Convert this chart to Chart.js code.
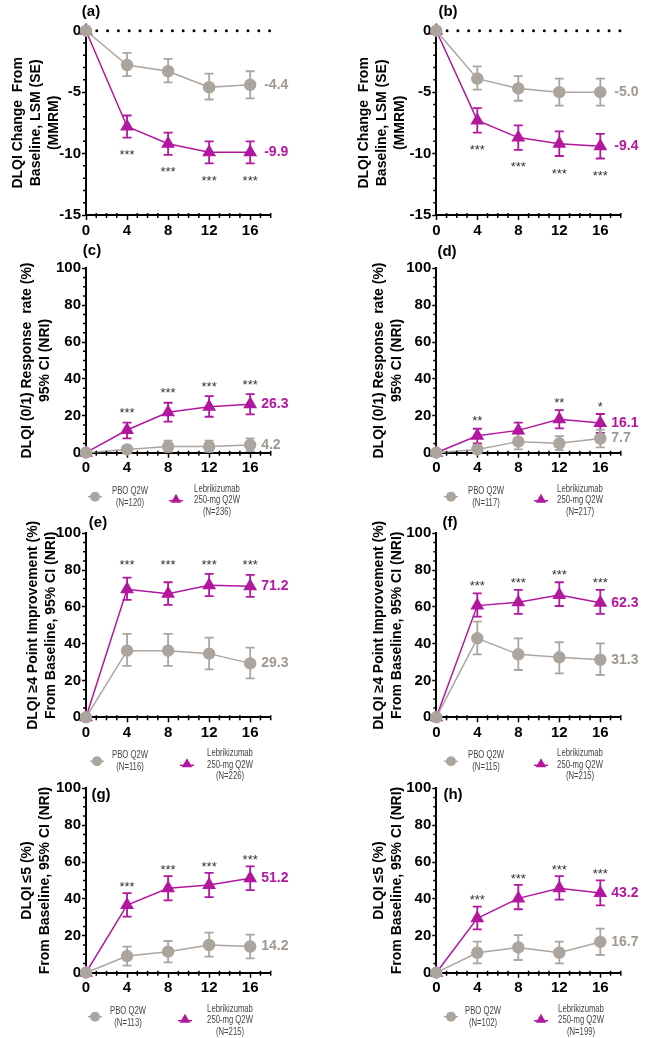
<!DOCTYPE html>
<html>
<head>
<meta charset="utf-8">
<script src="https://cdn.jsdelivr.net/npm/chart.js"></script>
<style>
  html, body { margin: 0; padding: 0; background: #fff; }
  #page { position: relative; width: 646px; height: 1038px; overflow: hidden; background: #fff; }
  #page canvas { position: absolute; }
</style>
</head>
<body>
<div id="page"></div>
<script>
// weeks and axis ticks
const weeks = [0, 4, 8, 12, 16];
const xTicks = [0, 4, 8, 12, 16];
const yTicksChange = [-15, -10, -5, 0];
const yTicksPct = [0, 20, 40, 60, 80, 100];

// (a) DLQI change from baseline, LSM (SE)
const aPbo = [0, -2.8, -3.3, -4.6, -4.4];
const aPboLo = [null, -3.7, -4.2, -5.6, -5.5];
const aPboHi = [null, -1.8, -2.3, -3.5, -3.3];
const aLeb = [0, -7.8, -9.2, -9.9, -9.9];
const aLebLo = [null, -8.7, -10.1, -10.8, -10.8];
const aLebHi = [null, -6.9, -8.3, -9.0, -9.0];
const aStars = ['', '***', '***', '***', '***'];

// (b)
const bPbo = [0, -3.9, -4.7, -5.0, -5.0];
const bPboLo = [null, -4.8, -5.7, -6.1, -6.1];
const bPboHi = [null, -2.9, -3.7, -3.9, -3.9];
const bLeb = [0, -7.3, -8.7, -9.2, -9.4];
const bLebLo = [null, -8.3, -9.7, -10.2, -10.4];
const bLebHi = [null, -6.3, -7.7, -8.2, -8.4];
const bStars = ['', '***', '***', '***', '***'];

// (c) DLQI (0/1) response rate
const cPbo = [0, 1.8, 3.3, 3.3, 4.2];
const cPboLo = [null, 0.2, 0.5, 0.5, 0.8];
const cPboHi = [null, 3.6, 6.5, 6.5, 7.8];
const cLeb = [0, 12.3, 21.9, 24.9, 26.3];
const cLebLo = [null, 7.8, 16.8, 19.5, 20.8];
const cLebHi = [null, 16.3, 27.1, 30.7, 31.8];
const cStars = ['', '***', '***', '***', '***'];

// (d)
const dPbo = [0, 1.8, 6.0, 5.1, 7.7];
const dPboLo = [null, 0.2, 1.8, 1.4, 2.9];
const dPboHi = [null, 3.6, 10.4, 9.0, 12.5];
const dLeb = [0, 9.2, 12.1, 18.1, 16.1];
const dLebLo = [null, 5.0, 7.8, 13.2, 10.8];
const dLebHi = [null, 13.0, 16.3, 23.1, 21.0];
const dStars = ['', '**', '', '**', '*'];

// (e) DLQI >=4 point improvement
const ePbo = [0, 36.2, 36.2, 34.6, 29.3];
const ePboLo = [null, 27.9, 27.9, 26.1, 21.2];
const ePboHi = [null, 45.3, 45.3, 43.3, 37.9];
const eLeb = [0, 69.6, 67.2, 71.7, 71.2];
const eLebLo = [null, 63.8, 61.1, 65.9, 65.4];
const eLebHi = [null, 75.9, 73.4, 77.9, 77.4];
const eStars = ['', '***', '***', '***', '***'];

// (f)
const fPbo = [0, 42.9, 34.2, 32.6, 31.3];
const fPboLo = [null, 34.2, 25.7, 23.9, 23.0];
const fPboHi = [null, 52.0, 42.9, 40.8, 40.2];
const fLeb = [0, 60.7, 62.5, 66.5, 62.3];
const fLebLo = [null, 54.7, 56.2, 60.5, 56.2];
const fLebHi = [null, 67.4, 69.2, 73.4, 69.2];
const fStars = ['', '***', '***', '***', '***'];

// (g) DLQI <=5
const gPbo = [0, 9.0, 11.4, 15.0, 14.2];
const gPboLo = [null, 3.8, 5.6, 8.7, 7.8];
const gPboHi = [null, 14.1, 17.2, 21.7, 20.6];
const gLeb = [0, 36.7, 45.8, 47.6, 51.2];
const gLebLo = [null, 30.4, 39.2, 41.0, 44.8];
const gLebHi = [null, 43.2, 52.4, 54.1, 57.7];
const gStars = ['', '***', '***', '***', '***'];

// (h)
const hPbo = [0, 10.8, 13.7, 10.8, 16.7];
const hPboLo = [null, 5.1, 6.9, 5.1, 9.6];
const hPboHi = [null, 16.8, 20.4, 16.8, 23.9];
const hLeb = [0, 29.5, 40.3, 45.8, 43.2];
const hLebLo = [null, 23.5, 34.4, 39.6, 36.5];
const hLebHi = [null, 35.8, 47.6, 52.4, 50.1];
const hStars = ['', '***', '***', '***', '***'];

// patient counts shown in the legends (c..h)
const pboN = [120, 117, 116, 115, 113, 102];
const lebN = [236, 217, 226, 215, 215, 199];

const GRAY = '#aca59e';
const GRAY_TXT = '#a0988f';
const MAG = '#b3179e';
const FONT = "'Liberation Sans', Arial, Helvetica, sans-serif";

const titleChange = ['DLQI Change  From', 'Baseline, LSM (SE)', '(MMRM)'];
const titleResp = ['DLQI (0/1) Response  rate (%)', '95% CI (NRI)'];
const titleImpr = ['DLQI \u22654 Point Improvement (%)', 'From Baseline, 95% CI (NRI)'];
const titleLow = ['DLQI \u22645 (%)', 'From Baseline, 95% CI (NRI)'];

const chg = { yMin: -15, yMax: 0, yTicks: yTicksChange, yMinor: 1, title: titleChange, starsBelow: true, zeroLine: true, endGap: 14 };
const pct = { yMin: 0, yMax: 100, yTicks: yTicksPct, yMinor: 5, starsBelow: false, zeroLine: false, endGap: 11 };

const panels = [
  Object.assign({}, chg, { tag: '(a)', col: 0, axisX: 86, right: 270.7, top: 30.7, bottom: 215, titleX: 18, tagX: 91, tagY: 12, starGap: 15,
    pbo: aPbo, pboLo: aPboLo, pboHi: aPboHi, leb: aLeb, lebLo: aLebLo, lebHi: aLebHi, stars: aStars }),
  Object.assign({}, chg, { tag: '(b)', col: 1, axisX: 436.3, right: 620.8, top: 30.7, bottom: 215, titleX: 364, tagX: 448, tagY: 12, starGap: 15,
    pbo: bPbo, pboLo: bPboLo, pboHi: bPboHi, leb: bLeb, lebLo: bLebLo, lebHi: bLebHi, stars: bStars }),
  Object.assign({}, pct, { tag: '(c)', col: 0, axisX: 86, right: 270.7, top: 268.3, bottom: 452.7, titleX: 27.5, tagX: 92, tagY: 251, starGap: 12, title: titleResp,
    pbo: cPbo, pboLo: cPboLo, pboHi: cPboHi, leb: cLeb, lebLo: cLebLo, lebHi: cLebHi, stars: cStars,
    legend: { n: 0, gx: 95, gtx: 130, mx: 176, mtx: 217 } }),
  Object.assign({}, pct, { tag: '(d)', col: 1, axisX: 436.3, right: 620.8, top: 268.3, bottom: 452.7, titleX: 379, tagX: 447, tagY: 252, starGap: 10, title: titleResp,
    pbo: dPbo, pboLo: dPboLo, pboHi: dPboHi, leb: dLeb, lebLo: dLebLo, lebHi: dLebHi, stars: dStars,
    legend: { n: 1, gx: 451, gtx: 486, mx: 541, mtx: 580 } }),
  Object.assign({}, pct, { tag: '(e)', col: 0, axisX: 86, right: 270.7, top: 533.3, bottom: 717.3, titleX: 33, tagX: 98, tagY: 523, starGap: 12, alignStars: true, title: titleImpr,
    pbo: ePbo, pboLo: ePboLo, pboHi: ePboHi, leb: eLeb, lebLo: eLebLo, lebHi: eLebHi, stars: eStars,
    legend: { n: 2, gx: 97, gtx: 130, mx: 187, mtx: 230 } }),
  Object.assign({}, pct, { tag: '(f)', col: 1, axisX: 436.3, right: 620.8, top: 533.3, bottom: 717.3, titleX: 379, tagX: 450, tagY: 523, starGap: 10, title: titleImpr,
    pbo: fPbo, pboLo: fPboLo, pboHi: fPboHi, leb: fLeb, lebLo: fLebLo, lebHi: fLebHi, stars: fStars,
    legend: { n: 3, gx: 451, gtx: 486, mx: 541, mtx: 580 } }),
  Object.assign({}, pct, { tag: '(g)', col: 0, axisX: 86, right: 270.7, top: 788.3, bottom: 972.7, titleX: 27.5, tagX: 101, tagY: 795, starGap: 9, title: titleLow,
    pbo: gPbo, pboLo: gPboLo, pboHi: gPboHi, leb: gLeb, lebLo: gLebLo, lebHi: gLebHi, stars: gStars,
    legend: { n: 4, gx: 95, gtx: 128, mx: 185, mtx: 230 } }),
  Object.assign({}, pct, { tag: '(h)', col: 1, axisX: 436.3, right: 620.8, top: 788.3, bottom: 972.7, titleX: 379, tagX: 453, tagY: 795, starGap: 9, title: titleLow,
    pbo: hPbo, pboLo: hPboLo, pboHi: hPboHi, leb: hLeb, lebLo: hLebLo, lebHi: hLebHi, stars: hStars,
    legend: { n: 5, gx: 451, gtx: 483, mx: 541, mtx: 581 } })
];

Chart.defaults.font.family = FONT;
Chart.defaults.color = '#000';

const PAGE_H = 1038, HALF = 323, XAXIS_H = 30;
const TLH = 14 * 1.28;

function pts(vals) {
  return weeks.map((w, i) => ({ x: w, y: vals[i] }));
}

function triangle(ctx, x, y, r) {
  ctx.beginPath();
  for (let k = 0; k < 3; k++) {
    const a = k * 2 * Math.PI / 3;
    const px = x + Math.sin(a) * r, py = y - Math.cos(a) * r;
    if (k === 0) ctx.moveTo(px, py); else ctx.lineTo(px, py);
  }
  ctx.closePath();
  ctx.fill();
}

// narrow legend text: regular font squeezed horizontally
function narrowText(ctx, txt, x, y) {
  ctx.save();
  ctx.translate(x, y);
  ctx.scale(0.7, 1);
  ctx.fillText(txt, 0, 0);
  ctx.restore();
}

function errBars(ctx, xs, ys, lo, hi, color) {
  ctx.save();
  ctx.strokeStyle = color;
  ctx.lineWidth = 1.8;
  weeks.forEach((w, i) => {
    if (lo[i] == null) return;
    const x = xs.getPixelForValue(w);
    const y1 = ys.getPixelForValue(lo[i]);
    const y2 = ys.getPixelForValue(hi[i]);
    ctx.beginPath();
    ctx.moveTo(x, y1); ctx.lineTo(x, y2);
    ctx.moveTo(x - 4.5, y1); ctx.lineTo(x + 4.5, y1);
    ctx.moveTo(x - 4.5, y2); ctx.lineTo(x + 4.5, y2);
    ctx.stroke();
  });
  ctx.restore();
}

function decor(p, offX, offY) {
  return {
    id: 'decor',
    beforeDatasetsDraw(chart) {
      const ctx = chart.ctx, xs = chart.scales.x, ys = chart.scales.y;
      if (p.zeroLine) {
        const y0 = ys.getPixelForValue(0);
        ctx.save();
        ctx.strokeStyle = '#000';
        ctx.lineWidth = 3;
        ctx.lineCap = 'round';
        ctx.setLineDash([0, 10.8]);
        ctx.beginPath();
        ctx.moveTo(xs.left, y0);
        ctx.lineTo(xs.right, y0);
        ctx.stroke();
        ctx.restore();
      }
      errBars(ctx, xs, ys, p.lebLo, p.lebHi, MAG);
      errBars(ctx, xs, ys, p.pboLo, p.pboHi, GRAY);
    },
    afterDraw(chart) {
      const ctx = chart.ctx, xs = chart.scales.x, ys = chart.scales.y;
      ctx.save();
      // minor ticks
      ctx.strokeStyle = '#000';
      ctx.lineWidth = 1.5;
      const ax = chart.chartArea.bottom;
      ctx.beginPath();
      for (let v = 0; v <= 18; v++) {
        if (xTicks.includes(v)) continue;
        const px = xs.getPixelForValue(v);
        ctx.moveTo(px, ax - 2); ctx.lineTo(px, ax + 3);
      }
      const ay = chart.chartArea.left;
      for (let v = p.yMin; v <= p.yMax; v += p.yMinor) {
        if (p.yTicks.includes(v)) continue;
        const py = ys.getPixelForValue(v);
        ctx.moveTo(ay - 3, py); ctx.lineTo(ay, py);
      }
      ctx.stroke();

      // significance stars
      ctx.fillStyle = '#333';
      ctx.font = '13px ' + FONT;
      ctx.textAlign = 'center';
      ctx.textBaseline = 'middle';
      const sy = weeks.map((w, i) => p.starsBelow
        ? ys.getPixelForValue(p.lebLo[i]) + p.starGap + 3
        : ys.getPixelForValue(p.lebHi[i]) - p.starGap + 3);
      const level = Math.min(...sy.slice(1));
      weeks.forEach((w, i) => {
        if (!p.stars[i]) return;
        ctx.fillText(p.stars[i], xs.getPixelForValue(w), p.alignStars ? level : sy[i]);
      });

      // end values
      const last = weeks.length - 1;
      const ex = xs.getPixelForValue(weeks[last]) + p.endGap;
      ctx.font = 'bold 14px ' + FONT;
      ctx.textAlign = 'left';
      ctx.fillStyle = GRAY_TXT;
      ctx.fillText(p.pbo[last].toFixed(1), ex, ys.getPixelForValue(p.pbo[last]));
      ctx.fillStyle = MAG;
      ctx.fillText(p.leb[last].toFixed(1), ex, ys.getPixelForValue(p.leb[last]));

      // panel tag
      ctx.fillStyle = '#000';
      ctx.font = 'bold 15px ' + FONT;
      ctx.textAlign = 'center';
      ctx.fillText(p.tag, p.tagX - offX, p.tagY - offY);

      // legend
      if (p.legend) {
        const L = p.legend, b = p.bottom - offY;
        ctx.font = '11px ' + FONT;
        ctx.fillStyle = '#444';
        narrowText(ctx, 'PBO Q2W', L.gtx - offX, b + 38);
        narrowText(ctx, '(N=' + pboN[L.n] + ')', L.gtx - offX, b + 50);
        narrowText(ctx, 'Lebrikizumab', L.mtx - offX, b + 36);
        narrowText(ctx, '250-mg Q2W', L.mtx - offX, b + 47.5);
        narrowText(ctx, '(N=' + lebN[L.n] + ')', L.mtx - offX, b + 59);
        // markers
        ctx.lineWidth = 1.5;
        ctx.strokeStyle = GRAY; ctx.fillStyle = GRAY;
        ctx.beginPath();
        ctx.moveTo(L.gx - offX - 7, b + 44); ctx.lineTo(L.gx - offX + 7, b + 44);
        ctx.stroke();
        ctx.beginPath();
        ctx.arc(L.gx - offX, b + 44, 5, 0, Math.PI * 2);
        ctx.fill();
        ctx.strokeStyle = MAG; ctx.fillStyle = MAG;
        ctx.beginPath();
        ctx.moveTo(L.mx - offX - 7, b + 48); ctx.lineTo(L.mx - offX + 7, b + 48);
        ctx.stroke();
        triangle(ctx, L.mx - offX, b + 47, 6);
      }
      ctx.restore();
    }
  };
}

const page = document.getElementById('page');

panels.forEach(p => {
  const left = p.col * HALF;
  const top = Math.max(0, Math.round(p.top - 45));
  const bottom = Math.min(PAGE_H, Math.round(p.bottom + (p.legend ? 68 : 40)));
  const canvas = document.createElement('canvas');
  canvas.width = HALF;
  canvas.height = bottom - top;
  canvas.style.left = left + 'px';
  canvas.style.top = top + 'px';
  page.appendChild(canvas);

  const titleLeft = p.titleX - TLH / 2;
  const yWidth = p.axisX - titleLeft;

  new Chart(canvas, {
    type: 'line',
    data: {
      datasets: [
        {
          label: 'PBO Q2W',
          data: pts(p.pbo),
          borderColor: GRAY,
          backgroundColor: GRAY,
          pointBackgroundColor: GRAY,
          pointBorderColor: GRAY,
          pointStyle: 'circle',
          pointRadius: 5.5,
          borderWidth: 1.5,
          tension: 0,
          clip: false
        },
        {
          label: 'Lebrikizumab 250-mg Q2W',
          data: pts(p.leb),
          borderColor: MAG,
          backgroundColor: MAG,
          pointBackgroundColor: MAG,
          pointBorderColor: MAG,
          pointStyle: 'triangle',
          pointRadius: 6.5,
          borderWidth: 1.5,
          tension: 0,
          clip: false
        }
      ]
    },
    options: {
      responsive: false,
      animation: false,
      devicePixelRatio: 1,
      events: [],
      layout: {
        padding: {
          left: titleLeft - left,
          right: left + HALF - p.right,
          top: p.top - top,
          bottom: bottom - p.bottom - XAXIS_H
        }
      },
      plugins: { legend: { display: false }, tooltip: { enabled: false } },
      scales: {
        x: {
          type: 'linear',
          min: 0,
          max: 18,
          afterBuildTicks: s => { s.ticks = xTicks.map(v => ({ value: v })); },
          afterFit: s => { s.height = XAXIS_H; },
          ticks: { font: { size: 15, weight: 'bold' }, color: '#000', padding: 1.5, maxRotation: 0, autoSkip: false },
          grid: { drawOnChartArea: false, tickLength: 5, tickColor: '#000', tickWidth: 1.5 },
          border: { color: '#000', width: 2 }
        },
        y: {
          type: 'linear',
          min: p.yMin,
          max: p.yMax,
          afterBuildTicks: s => { s.ticks = p.yTicks.map(v => ({ value: v })); },
          afterFit: s => { s.width = yWidth; },
          ticks: { font: { size: 15, weight: 'bold' }, color: '#000', padding: 1 },
          grid: { drawOnChartArea: false, tickLength: 4, tickColor: '#000', tickWidth: 1.5 },
          border: { color: '#000', width: 2 },
          title: {
            display: true,
            text: p.title,
            color: '#000',
            padding: 0,
            font: { size: 14, weight: 'bold', lineHeight: 1.28 }
          }
        }
      }
    },
    plugins: [decor(p, left, top)]
  });
});
</script>
</body>
</html>
